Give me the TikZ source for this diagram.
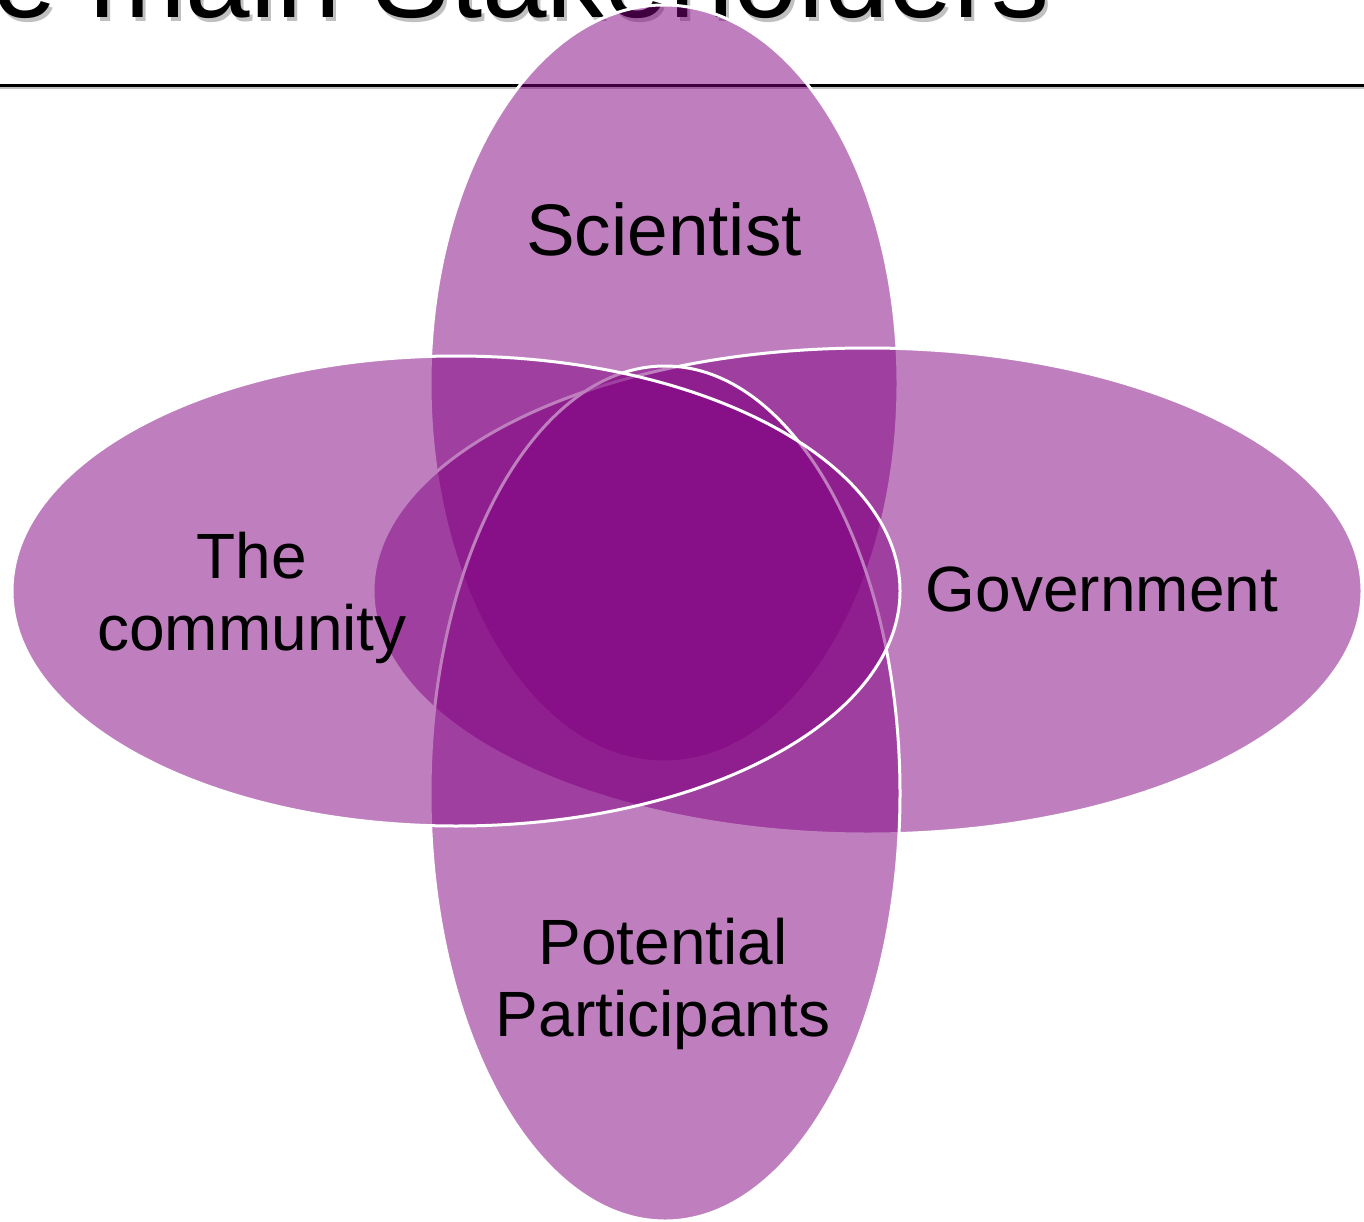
\documentclass[tikz,border=0pt]{standalone}
\usepackage{fontspec}
\setmainfont{Liberation Sans}
\definecolor{vpurple}{RGB}{128,0,128}
\definecolor{shadowgray}{RGB}{192,192,192}
\begin{document}
\begin{tikzpicture}[x=1pt,y=-1pt,
  venn/.style={fill=vpurple, fill opacity=0.5, draw=white, line width=3pt},
  lbl/.style={font=\fontsize{64}{72}\selectfont, text=black, inner sep=0pt, anchor=base},
  titletext/.style={font=\fontsize{116}{122}\selectfont, inner sep=0pt, anchor=base west}
]
\useasboundingbox (0,0) rectangle (1364,1222);
\clip (0,0) rectangle (1364,1222);
\fill[white] (0,0) rectangle (1364,1222);
% title with shadow
\node[titletext, text=shadowgray] (titleshadow) at (-140,22) {The main Stakeholders};
\node[titletext, text=black] (title) at (-143,18) {The main Stakeholders};
% rule with shadow
\coordinate (ruleL) at (0,85.5);
\coordinate (ruleR) at (1364,85.5);
\draw[shadowgray, line width=1.5pt] ([yshift=-2.5pt]ruleL) -- ([yshift=-2.5pt]ruleR);
\draw[black, line width=2.5pt] (ruleL) -- (ruleR);
% ellipses (drawing order: top, right, bottom, left)
\draw[venn] (664,383.5) ellipse [x radius=234pt, y radius=378.5pt];
\draw[venn] (867.5,591) ellipse [x radius=494.5pt, y radius=243pt];
\draw[venn] (665,793.5) ellipse [x radius=235pt, y radius=427.5pt];
\draw[venn] (456,591) ellipse [x radius=444pt, y radius=235pt];
% labels
\node[lbl, font=\fontsize{73}{80}\selectfont] (sci) at (664,256) {Scientist};
\node[lbl] (gov) at (1102,611) {Government};
\node[lbl] (com1) at (252,578) {The};
\node[lbl] (com2) at (252,650) {community};
\node[lbl] (par1) at (663,964) {Potential};
\node[lbl] (par2) at (663,1036) {Participants};
\end{tikzpicture}
\end{document}
